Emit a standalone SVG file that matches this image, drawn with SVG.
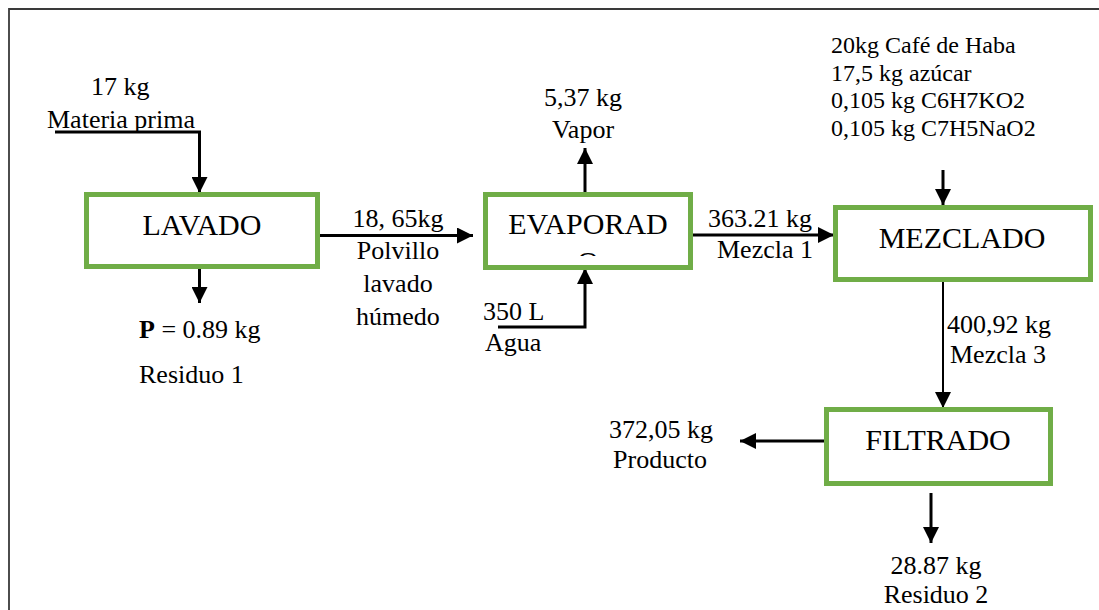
<svg xmlns="http://www.w3.org/2000/svg" width="1099" height="610" viewBox="0 0 1099 610">
  <style>
    text { font-family: "Liberation Serif", "Times New Roman", serif; fill: #000; }
    .lbl { font-size: 26px; }
    .top { font-size: 24px; }
    .title { font-size: 30px; text-anchor: middle; }
    .mid { text-anchor: middle; }
    .box { fill: #fff; stroke: #70AD47; stroke-width: 5; }
    .flow { fill: none; stroke: #000; stroke-width: 3; }
    .thin { stroke-width: 2; }
  </style>
  <defs>
    <marker id="arr" viewBox="0 0 16 16" refX="16" refY="8" markerWidth="16" markerHeight="16" markerUnits="userSpaceOnUse" orient="auto">
      <path d="M0,0 L16,8 L0,16 z" fill="#000"/>
    </marker>
    <clipPath id="evapClip">
      <rect x="488" y="197" width="200" height="59"/>
    </clipPath>
  </defs>
  <rect x="0" y="0" width="1099" height="610" fill="#fff"/>
  <g id="frame">
    <path d="M9,610 L9,9 L1099,9" fill="none" stroke="#3a3a3a" stroke-width="1.8"/>
  </g>

  <g id="connectors">
    <path class="flow" d="M55,132 L199.5,132 L199.5,193" marker-end="url(#arr)"/>
    <path class="flow" d="M199.5,268 L199.5,303" marker-end="url(#arr)"/>
    <path class="flow" d="M319,235.5 L473,235.5" marker-end="url(#arr)"/>
    <path class="flow" d="M585,192 L585,148" marker-end="url(#arr)"/>
    <path class="flow" d="M498,327 L585,327 L585,268" marker-end="url(#arr)"/>
    <path class="flow" d="M693,235 L834,235" marker-end="url(#arr)"/>
    <path class="flow" d="M943,170 L943,205" marker-end="url(#arr)"/>
    <path class="flow thin" d="M943,282 L943,408" marker-end="url(#arr)"/>
    <path class="flow" d="M826,441 L740,441" marker-end="url(#arr)"/>
    <path class="flow" d="M931,493 L931,543" marker-end="url(#arr)"/>
  </g>

  <g id="lavado">
    <rect class="box" x="86.5" y="194.5" width="231" height="72"/>
    <text class="title" x="202" y="235">LAVADO</text>
  </g>
  <g id="evaporador">
    <rect class="box" x="485.5" y="194.5" width="205" height="73"/>
    <text class="title" x="588" y="234">EVAPORAD</text>
    <text class="title" x="588" y="272" clip-path="url(#evapClip)">O</text>
  </g>
  <g id="mezclado">
    <rect class="box" x="835.5" y="207.5" width="255" height="72"/>
    <text class="title" x="962" y="248">MEZCLADO</text>
  </g>
  <g id="filtrado">
    <rect class="box" x="826.5" y="409.5" width="224" height="74"/>
    <text class="title" x="938" y="450">FILTRADO</text>
  </g>

  <g id="labels">
    <text class="lbl" x="91" y="95">17 kg</text>
    <text class="lbl" x="47" y="128">Materia prima</text>
    <text class="lbl" x="139" y="338"><tspan font-weight="bold">P</tspan> = 0.89 kg</text>
    <text class="lbl" x="139" y="383">Residuo 1</text>

    <text class="lbl mid" x="398" y="227">18, 65kg</text>
    <text class="lbl mid" x="398" y="259">Polvillo</text>
    <text class="lbl mid" x="398" y="292">lavado</text>
    <text class="lbl mid" x="398" y="325">húmedo</text>

    <text class="lbl mid" x="583" y="106">5,37 kg</text>
    <text class="lbl mid" x="583" y="138">Vapor</text>

    <text class="lbl" x="483" y="320">350 L</text>
    <text class="lbl" x="485" y="351">Agua</text>

    <text class="lbl" x="708" y="227">363.21 kg</text>
    <text class="lbl" x="717" y="258">Mezcla 1</text>

    <text class="top" x="831" y="53">20kg Café de Haba</text>
    <text class="top" x="831" y="81">17,5 kg azúcar</text>
    <text class="top" x="831" y="108">0,105 kg C6H7KO2</text>
    <text class="top" x="831" y="136">0,105 kg C7H5NaO2</text>

    <text class="lbl" x="947" y="333">400,92 kg</text>
    <text class="lbl" x="950" y="363">Mezcla 3</text>

    <text class="lbl mid" x="661" y="438">372,05 kg</text>
    <text class="lbl mid" x="660" y="468">Producto</text>

    <text class="lbl mid" x="936" y="574">28.87 kg</text>
    <text class="lbl mid" x="936" y="603">Residuo 2</text>
  </g>
</svg>
